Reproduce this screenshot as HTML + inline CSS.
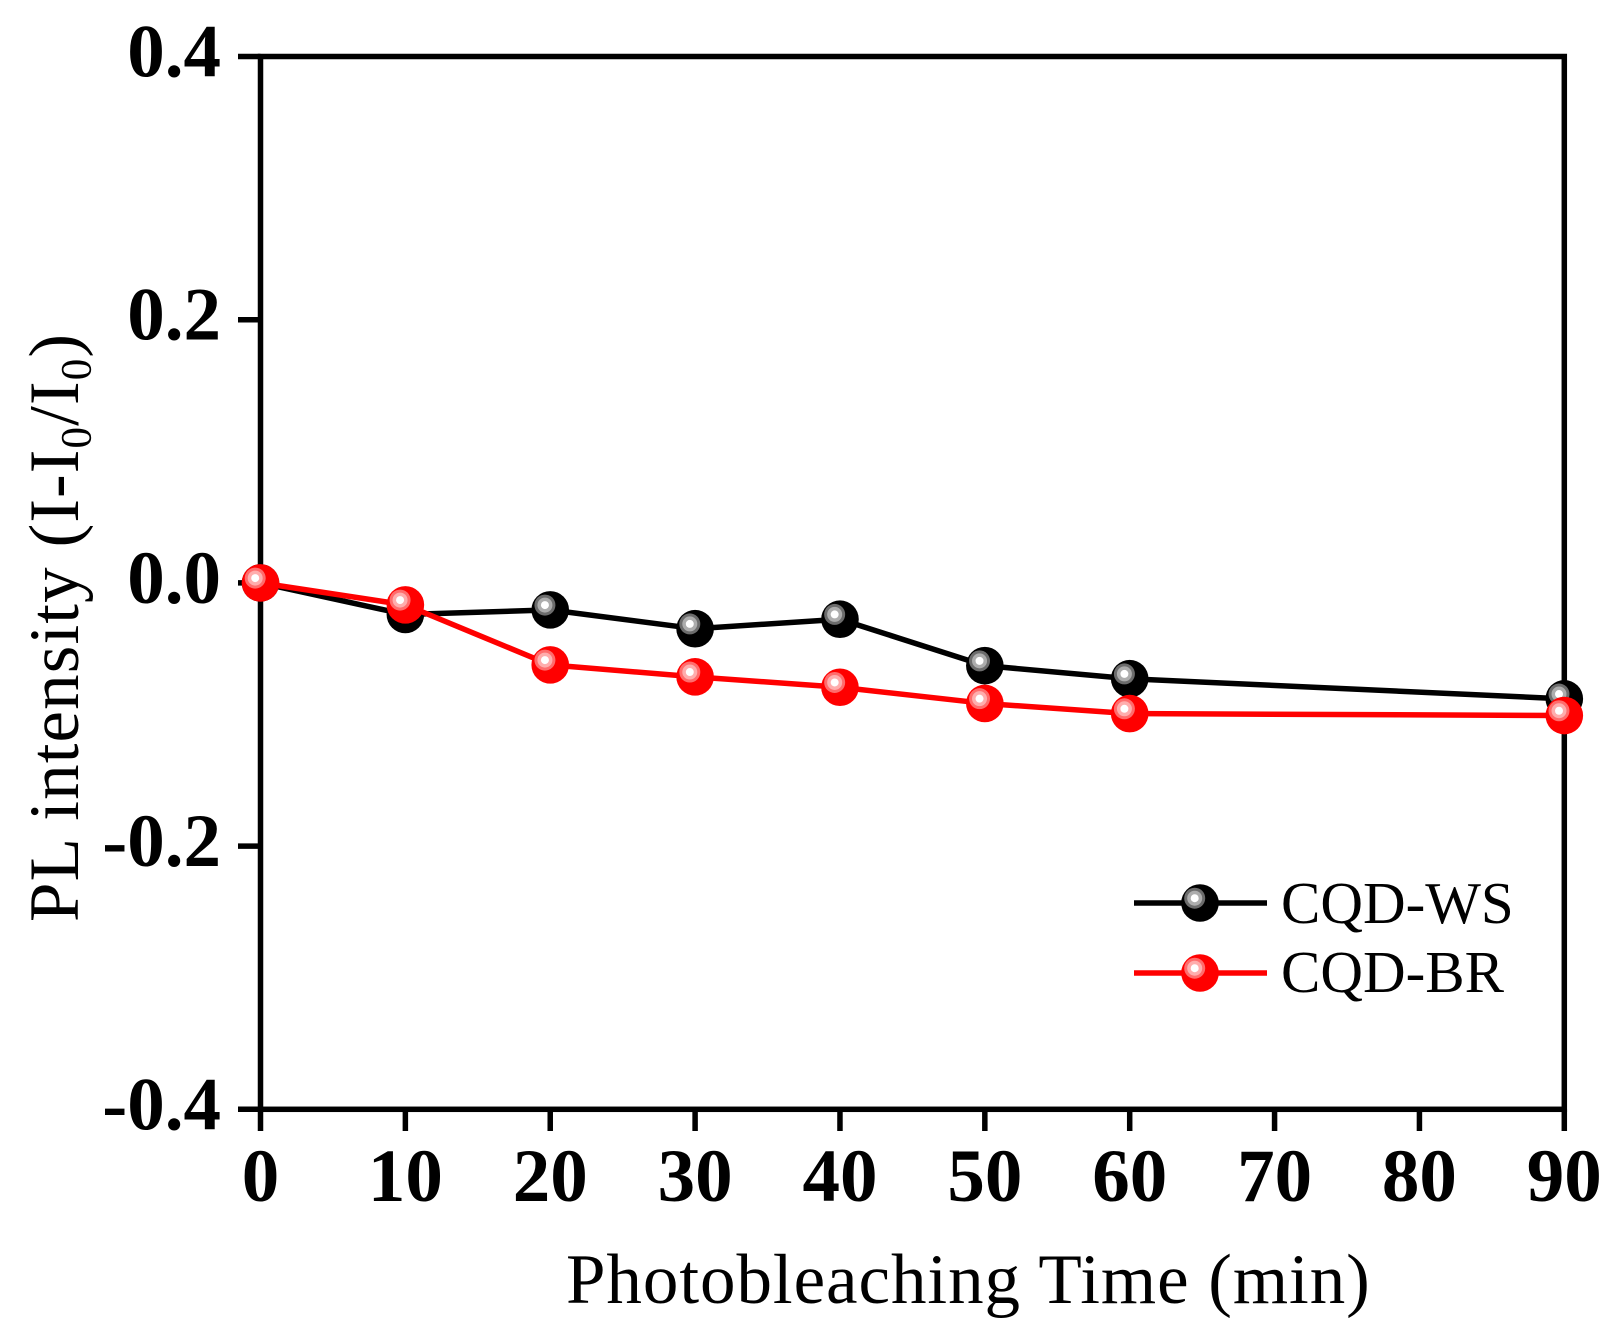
<!DOCTYPE html>
<html>
<head>
<meta charset="utf-8">
<title>PL intensity vs photobleaching time</title>
<style>
  html, body { margin: 0; padding: 0; background: #fff; }
  svg { display: block; }
  text { font-family: "Liberation Serif", serif; fill: #000; }
  .tick { font-size: 75px; font-weight: bold; }
  .title { font-size: 71px; }
  .legend { font-size: 59px; }
</style>
</head>
<body>
<svg id="chart" xmlns="http://www.w3.org/2000/svg" width="1622" height="1330" viewBox="0 0 1622 1330">
  <rect x="0" y="0" width="1622" height="1330" fill="#fff"/>
  <g id="axes"></g>
  <g id="series"></g>
  <text class="title" x="566" y="1303" letter-spacing="0.95">Photobleaching Time (min)</text>
  <text class="title" transform="translate(78 922) rotate(-90)" letter-spacing="1.1">PL intensity (I-I<tspan font-size="43" dy="12.5">0</tspan><tspan dy="-12.5">/I</tspan><tspan font-size="43" dy="12.5">0</tspan><tspan dy="-12.5">)</tspan></text>
  <g id="legend">
    <text class="legend" x="1281" y="923">CQD-WS</text>
    <text class="legend" x="1281" y="992">CQD-BR</text>
  </g>
</svg>
<script>
var xTicks = [0, 10, 20, 30, 40, 50, 60, 70, 80, 90];
var xTickLabels = ['0', '10', '20', '30', '40', '50', '60', '70', '80', '90'];
var yTicks = [0.4, 0.2, 0.0, -0.2, -0.4];
var yTickLabels = ['0.4', '0.2', '0.0', '-0.2', '-0.4'];
var times = [0, 10, 20, 30, 40, 50, 60, 90];
var cqdWs = [0, -0.024, -0.0205, -0.0348, -0.0276, -0.0629, -0.0728, -0.0881];
var cqdBr = [0, -0.0167, -0.0623, -0.0714, -0.0793, -0.0916, -0.0993, -0.1008];

var NS = 'http://www.w3.org/2000/svg';
var plotLeft = 260.5, plotRight = 1564.3, plotTop = 56.5, plotBottom = 1109.3;
function xScale(v) { return plotLeft + (v - 0) / 90 * (plotRight - plotLeft); }
function yScale(v) { return plotTop + (0.4 - v) / 0.8 * (plotBottom - plotTop); }

function make(tag, parent, attrs) {
  var el = document.createElementNS(NS, tag);
  for (var k in attrs) { el.setAttribute(k, attrs[k]); }
  parent.appendChild(el);
  return el;
}

function seg(parent, x1, y1, x2, y2, color, width) {
  return make('line', parent, { x1: x1, y1: y1, x2: x2, y2: y2, stroke: color, 'stroke-width': width });
}

function marker(parent, cx, cy, base, ring1, ring2) {
  var g = make('g', parent, {});
  
  
  make('circle', g, { cx: cx, cy: cy, r: 18.8, fill: base });
  make('circle', g, { cx: cx - 5.3, cy: cy - 4.8, r: 10.5, fill: ring1 });
  make('circle', g, { cx: cx - 5.3, cy: cy - 4.8, r: 7.5, fill: ring2 });
  make('circle', g, { cx: cx - 5.3, cy: cy - 4.8, r: 4, fill: '#fff' });
  return g;
}

var axes = document.getElementById('axes');
var seriesLayer = document.getElementById('series');
var legend = document.getElementById('legend');

var frame = make('rect', axes, { x: plotLeft, y: plotTop, width: plotRight - plotLeft, height: plotBottom - plotTop, fill: 'none', stroke: '#000', 'stroke-width': 5.5 });



yTicks.forEach(function (v, i) {
  var y = yScale(v);
  var t = seg(axes, 238, y, plotLeft, y, '#000', 5.5);
  
  
  var label = make('text', axes, { x: 221, y: y + 20, 'text-anchor': 'end', 'class': 'tick' });
  
  
  label.textContent = yTickLabels[i];
});

xTicks.forEach(function (v, i) {
  var x = xScale(v);
  var t = seg(axes, x, plotBottom, x, 1131, '#000', 5.5);
  
  
  var label = make('text', axes, { x: x, y: 1201, 'text-anchor': 'middle', 'class': 'tick' });
  
  
  label.textContent = xTickLabels[i];
});

function drawSeries(values, color, ring1, ring2, name) {
  var g = make('g', seriesLayer, {});
  
  
  var pts = values.map(function (v, i) { return xScale(times[i]) + ',' + yScale(v); }).join(' ');
  var line = make('polyline', g, { points: pts, fill: 'none', stroke: color, 'stroke-width': 5.5, 'stroke-linejoin': 'round' });
  
  
  values.forEach(function (v, i) {
    marker(g, xScale(times[i]), yScale(v), color, ring1, ring2);
  });
}

drawSeries(cqdWs, '#000', '#6c6c6c', '#adadad', 'series-cqd-ws');
drawSeries(cqdBr, '#f00', '#ff6c6c', '#ffadad', 'series-cqd-br');

var legendLine1 = seg(legend, 1134, 903, 1267, 903, '#000', 5.5);


marker(legend, 1200, 903, '#000', '#6c6c6c', '#adadad');
var legendLine2 = seg(legend, 1134, 973, 1267, 973, '#f00', 5.5);


marker(legend, 1200, 973, '#f00', '#ff6c6c', '#ffadad');
</script>
</body>
</html>
